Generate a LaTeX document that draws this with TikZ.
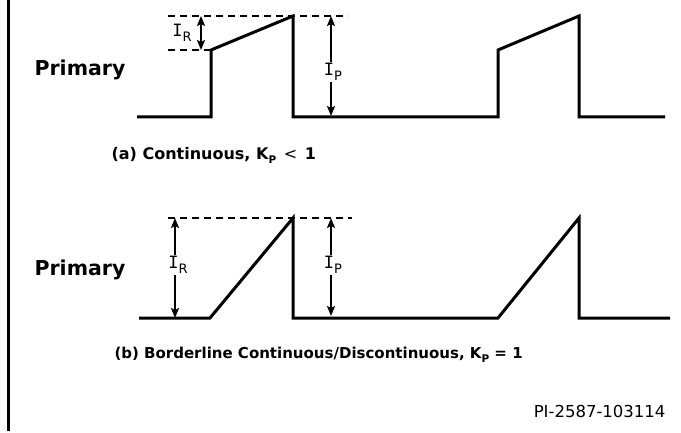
\documentclass[tikz,border=0pt]{standalone}
\usepackage{fontspec}
\setmainfont{DejaVu Sans}
\newfontfamily\barfont{DejaVu Sans Mono}
\usetikzlibrary{arrows.meta}
\newcommand{\cur}[1]{{\barfont I}\raisebox{-0.3em}{\fontsize{13}{13}\selectfont #1}}
\newcommand{\kp}{K\raisebox{-0.25em}{\fontsize{10.5}{10.5}\selectfont P}}
\begin{document}
\begin{tikzpicture}[x=1pt,y=-1pt,
  wave/.style={line width=3pt,line join=miter},
  guide/.style={dash pattern=on 7pt off 5pt,line width=1.1pt},
  dim/.style={line width=2pt,{Stealth[length=10pt,width=8pt,inset=2pt]}-{Stealth[length=10pt,width=8pt,inset=2pt]}},
  lbl/.style={fill=white,inner sep=1.5pt,font=\fontsize{17}{17}\selectfont},
  head/.style={font=\bfseries\fontsize{20.5}{20.5}\selectfont},
  capt/.style={font=\bfseries\fontsize{15}{15}\selectfont,anchor=west}]
\useasboundingbox (0,0) rectangle (681,433);
\draw[line width=3pt] (8,0) -- (8,431);

% (a) continuous
\coordinate (a0) at (137,117);
\coordinate (a1) at (211,117);
\coordinate (a2) at (211,50);
\coordinate (a3) at (293,16);
\coordinate (a4) at (293,117);
\coordinate (a5) at (498,117);
\coordinate (a6) at (498,50);
\coordinate (a7) at (579,16);
\coordinate (a8) at (579,117);
\coordinate (a9) at (665,117);
\draw[wave] (a0) -- (a1) -- (a2) -- (a3) -- (a4) -- (a5) -- (a6) -- (a7) -- (a8) -- (a9);
\draw[guide] (168,16) -- (348,16);
\draw[guide] (168,50) -- (a2);
\coordinate (ra) at (201,16);
\coordinate (rb) at (201,50);
\draw[dim] (ra) -- (rb);
\node[lbl] (ira) at (182,33) {\cur{R}};
\coordinate (pa) at (331,16);
\coordinate (pb) at (331,116);
\draw[dim] (pa) -- (pb);
\node[lbl] (ipa) at (333,72) {\cur{P}};
\node[head] (pria) at (80,70) {Primary};
\node[capt,font=\bfseries\fontsize{16}{16}\selectfont] (capa) at (108,155)
  {(a) Continuous, \kp\hspace{2pt} {\mdseries<}\hspace{2pt} 1};

% (b) borderline
\coordinate (b0) at (139,318);
\coordinate (b1) at (210,318);
\coordinate (b2) at (293,218);
\coordinate (b3) at (293,318);
\coordinate (b4) at (498,318);
\coordinate (b5) at (579,218);
\coordinate (b6) at (579,318);
\coordinate (b7) at (670,318);
\draw[wave] (b0) -- (b1) -- (b2) -- (b3) -- (b4) -- (b5) -- (b6) -- (b7);
\draw[guide] (168,218) -- (352,218);
\coordinate (rc) at (175,218);
\coordinate (rd) at (175,318);
\draw[dim] (rc) -- (rd);
\node[lbl] (irb) at (178,265) {\cur{R}};
\coordinate (pc) at (331,218);
\coordinate (pd) at (331,316);
\draw[dim] (pc) -- (pd);
\node[lbl] (ipb) at (333,265) {\cur{P}};
\node[head] (prib) at (80,270) {Primary};
\node[capt] (capb) at (111,355) {(b) Borderline Continuous/Discontinuous, \kp{} = 1};

\node[anchor=east,font=\fontsize{16.5}{16.5}\selectfont] (code) at (669,411) {PI-2587-103114};
\end{tikzpicture}
\end{document}
